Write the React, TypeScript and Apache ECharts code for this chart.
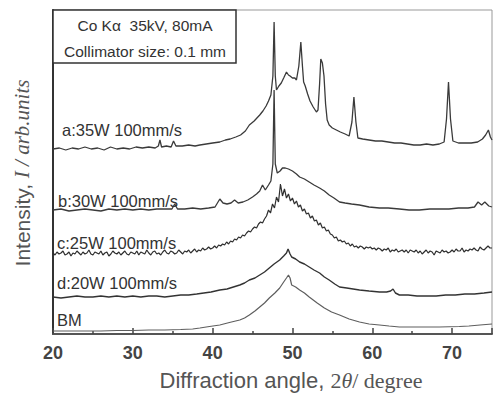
import React, { useEffect, useRef } from "react";
import * as echarts from "echarts";

const xTickValues = [20, 30, 40, 50, 60, 70];
const curveLabels = ["a:35W 100mm/s", "b:30W 100mm/s", "c:25W 100mm/s", "d:20W 100mm/s", "BM"];
const boxLines = ["Co K\u03b1  35kV, 80mA", "Collimator size: 0.1 mm"];

const curveA: [number, number][] = [
  [20.0, 185], [20.8, 186], [21.6, 184], [22.4, 186], [23.2, 185], [24.0, 187], [24.8, 185], [25.6, 186],
  [26.4, 184], [27.2, 187], [28.0, 185], [28.8, 186], [29.6, 185], [30.4, 187], [31.2, 186], [32.0, 187],
  [32.8, 186], [33.2, 188], [33.4, 194], [33.6, 187], [34.2, 188], [34.8, 187], [35.1, 193], [35.4, 188],
  [36.2, 188], [37.0, 189], [37.8, 188], [38.4, 189], [39.2, 190], [40.0, 191], [40.9, 192], [41.6, 194],
  [42.2, 195], [42.9, 197], [43.5, 199], [44.1, 203], [44.6, 209], [45.2, 213], [45.9, 219], [46.3, 223],
  [46.7, 228], [47.0, 233], [47.3, 239], [47.55, 258], [47.7, 312], [47.85, 258], [48.0, 244], [48.3, 248],
  [48.6, 251], [48.9, 256], [49.25, 262], [49.5, 259], [49.7, 258], [50.0, 256], [50.3, 256], [50.5, 254],
  [50.8, 268], [51.05, 292], [51.25, 268], [51.4, 252], [51.6, 248], [51.9, 240], [52.2, 233], [52.6, 227],
  [53.0, 222], [53.2, 224], [53.4, 250], [53.55, 275], [53.75, 271], [53.95, 258], [54.15, 230], [54.35, 214],
  [54.6, 209], [55.0, 206], [55.5, 204], [56.0, 202], [56.6, 200], [57.1, 198], [57.45, 212], [57.7, 237],
  [57.95, 212], [58.2, 196], [58.8, 195], [59.6, 194], [60.4, 193], [61.2, 193], [62.0, 192], [62.8, 191],
  [63.6, 191], [64.4, 190], [65.2, 189], [66.0, 189], [66.8, 190], [67.6, 189], [68.4, 190], [69.0, 192],
  [69.3, 215], [69.55, 252], [69.8, 215], [70.1, 193], [70.8, 191], [71.6, 191], [72.4, 191], [73.2, 192],
  [73.8, 195], [74.2, 199], [74.55, 204], [74.8, 197], [75.0, 194],
];

const curveB: [number, number][] = [
  [20, 124], [21, 125], [22, 123], [23, 124], [24, 125], [25, 124], [26, 123], [27, 125], [28, 124], [29, 125],
  [30, 124], [31, 125], [32, 124], [33, 125], [34, 125], [34.9, 125], [35.25, 130], [35.6, 125], [36.5, 125],
  [37.5, 126], [38.5, 125], [39.5, 126], [40.3, 127], [40.6, 131], [40.9, 135], [41.3, 131], [41.8, 130],
  [42.3, 131], [42.75, 134], [43.2, 131], [43.8, 132], [44.4, 134], [45.0, 137], [45.5, 140], [45.9, 143],
  [46.25, 149], [46.6, 144], [47.0, 149], [47.3, 153], [47.55, 170], [47.7, 244], [47.85, 170], [48.1, 161],
  [48.45, 163], [48.75, 166], [49.1, 166], [49.5, 165], [50.0, 163], [50.5, 160], [50.9, 157], [51.5, 155],
  [52.1, 152], [52.7, 149], [53.4, 146], [54.0, 143], [54.6, 139], [55.2, 136], [55.9, 132], [56.6, 131],
  [57.4, 130], [58.4, 129], [59.6, 127], [60.9, 126], [62.0, 126], [63.4, 125], [64.6, 124], [65.9, 124],
  [67.2, 125], [68.4, 125], [69.6, 125], [70.8, 126], [72.0, 126], [72.8, 127], [73.25, 132], [73.7, 129],
  [74.1, 132], [74.6, 128], [75, 127],
];

// curve c sampled every 0.25 degree from 20 to 75
const curveCStart = 20;
const curveCStep = 0.25;
const curveCValues = [
  81, 79, 82, 80, 81, 83, 79, 80, 82, 78, 81, 80, 83, 81, 79, 82, 80, 81, 84, 80,
  79, 82, 81, 80, 83, 79, 81, 82, 78, 80, 83, 81, 80, 82, 79, 81, 83, 80, 79, 82,
  81, 80, 83, 79, 82, 81, 80, 84, 81, 79, 82, 83, 80, 81, 79, 82, 84, 81, 80, 83,
  82, 80, 81, 84, 82, 80, 83, 82, 84, 81, 83, 85, 82, 84, 83, 86, 84, 85, 87, 85,
  86, 88, 86, 89, 88, 90, 89, 92, 90, 93, 92, 95, 94, 97, 96, 99, 98, 101, 103, 102,
  105, 107, 106, 110, 112, 111, 115, 118, 124, 121, 130, 126, 137, 132, 150, 138, 145, 136, 140, 133,
  136, 130, 133, 127, 129, 123, 125, 120, 121, 116, 118, 113, 114, 109, 111, 106, 107, 103, 104, 100,
  99, 96, 97, 93, 94, 92, 93, 90, 91, 88, 90, 87, 88, 86, 88, 87, 85, 87, 86, 87,
  85, 86, 84, 86, 85, 83, 85, 84, 86, 82, 84, 83, 85, 82, 83, 84, 82, 84, 81, 84,
  83, 82, 84, 81, 83, 80, 82, 84, 81, 83, 82, 79, 83, 82, 81, 84, 82, 83, 81, 82,
  84, 82, 85, 83, 83, 86, 82, 84, 83, 85, 84, 86, 84, 83, 87, 85, 84, 86, 88, 86,
  86,
];

const curveD: [number, number][] = [
  [20, 37], [21, 36], [22, 37], [23, 38], [24, 37], [25, 37], [26, 38], [27, 37], [28, 38], [29, 37],
  [30, 38], [31, 37], [32, 38], [33, 38], [34, 37], [35, 38], [36, 39], [37, 39], [38, 40], [38.9, 41],
  [39.8, 42], [40.9, 44], [41.8, 45], [42.6, 47], [43.4, 49], [44.0, 51], [44.6, 54], [45.3, 56], [45.9, 59],
  [46.5, 62], [47.1, 66], [47.7, 70], [48.4, 74], [48.9, 78], [49.25, 81], [49.45, 85], [49.7, 80], [49.9, 77],
  [50.4, 75], [50.9, 72], [51.5, 70], [52.1, 67], [52.7, 64], [53.4, 61], [54.0, 57], [54.6, 54], [55.3, 50],
  [55.9, 47], [56.8, 46], [57.6, 45], [58.4, 44], [59.6, 43], [60.9, 42], [61.8, 42], [62.3, 43], [62.6, 45],
  [62.9, 41], [63.4, 39], [64.5, 39], [65.6, 38], [66.8, 38], [68.0, 38], [69.2, 39], [70.4, 39], [71.6, 40],
  [72.8, 40], [74.0, 41], [75, 42],
];

const curveBM: [number, number][] = [
  [20, 3], [22, 3], [24, 3], [26, 3], [28, 3.5], [30, 3.5], [32, 4], [34, 4], [36, 4.5], [37.5, 5], [38.4, 6],
  [39.6, 7.5], [40.9, 9], [42.1, 11.5], [43.4, 14], [44.0, 16], [44.6, 19], [45.3, 23], [45.9, 27], [46.5, 31],
  [47.1, 36], [47.8, 41], [48.4, 46], [48.9, 52], [49.25, 56], [49.5, 59], [49.7, 56], [49.9, 49], [50.4, 47],
  [50.9, 44], [51.5, 41], [52.1, 37], [52.6, 34], [53.1, 31], [54.0, 26], [54.9, 22], [55.9, 19], [57.1, 15],
  [58.4, 12], [59.6, 10], [60.9, 9], [62.1, 8], [63.4, 7], [65.9, 7], [68.4, 7], [70.9, 7.5], [72.1, 8],
  [73.5, 9], [75, 10],
];

const SANS = "'Liberation Sans', Arial, sans-serif";
const SERIF = "'Liberation Serif', 'Times New Roman', serif";

export default function App() {
  const ref = useRef<HTMLDivElement>(null);
  useEffect(() => {
    if (!ref.current) return;
    const chart = echarts.init(ref.current, undefined, { renderer: "svg" });
    const curveC: [number, number][] = curveCValues.map((v, i) => [curveCStart + i * curveCStep, v]);
    const lineSeries = (data: [number, number][], color: string, width: number) => ({
      type: "line",
      data,
      showSymbol: false,
      symbol: "none",
      smooth: false,
      lineStyle: { color, width },
      silent: true,
    });
    const labelPos = [
      [62, 130], [58, 201], [57, 243], [57, 283], [57, 320],
    ];
    chart.setOption({
      animation: false,
      backgroundColor: "#fff",
      grid: { left: 53, right: 1, top: 10, bottom: 64, show: true, borderColor: "#999", borderWidth: 1 },
      xAxis: {
        type: "value",
        min: 20,
        max: 75,
        interval: 10,
        axisLine: { show: true, lineStyle: { color: "#555", width: 2 } },
        axisTick: { show: true, inside: true, length: 6, lineStyle: { color: "#444", width: 1.5 } },
        minorTick: { show: true, splitNumber: 2, length: 3, lineStyle: { color: "#444", width: 1.5 } },
        splitLine: { show: false },
        axisLabel: {
          showMaxLabel: false,
          margin: 10,
          color: "#444",
          fontSize: 18,
          fontWeight: "bold",
          fontFamily: SANS,
          formatter: (v: number) => (xTickValues.indexOf(Number(v)) >= 0 ? String(v) : ""),
        },
      },
      yAxis: {
        type: "value",
        min: 0,
        max: 324,
        axisLine: { show: true, lineStyle: { color: "#333", width: 2 } },
        axisTick: { show: false },
        axisLabel: { show: false },
        splitLine: { show: false },
      },
      series: [
        lineSeries(curveBM, "#5e5e5e", 1.2),
        lineSeries(curveD, "#333", 1.4),
        lineSeries(curveC, "#2e2e2e", 1.2),
        lineSeries(curveB, "#3a3a3a", 1.3),
        lineSeries(curveA, "#3a3a3a", 1.3),
      ],
      graphic: [
        {
          type: "rect",
          shape: { x: 53, y: 10, width: 183, height: 53 },
          style: { fill: "#fff", stroke: "#333", lineWidth: 1.5 },
          z: 10,
        },
        {
          type: "text",
          x: 145,
          y: 25,
          z: 11,
          style: { text: boxLines[0], fill: "#333", font: `15.5px ${SANS}`, align: "center", verticalAlign: "middle" },
        },
        {
          type: "text",
          x: 145,
          y: 51,
          z: 11,
          style: { text: boxLines[1], fill: "#333", font: `15.5px ${SANS}`, align: "center", verticalAlign: "middle" },
        },
        ...curveLabels.map((t, i) => ({
          type: "text",
          x: labelPos[i][0],
          y: labelPos[i][1],
          z: 11,
          style: { text: t, fill: "#333", font: `16.5px ${SANS}`, align: "left", verticalAlign: "middle" },
        })),
        {
          type: "text",
          x: 291,
          y: 380,
          z: 11,
          style: {
            text: "{s|Diffraction angle, }{n|2}{t|\u03b8}{n|/ degree}",
            align: "center",
            verticalAlign: "middle",
            rich: {
              s: { fill: "#555", fontSize: 22, fontFamily: SANS },
              n: { fill: "#555", fontSize: 22, fontFamily: SERIF },
              t: { fill: "#555", fontSize: 22, fontFamily: SERIF, fontStyle: "italic" },
            },
          },
        },
        {
          type: "text",
          x: 22,
          y: 173,
          rotation: Math.PI / 2,
          z: 11,
          style: {
            text: "{s|Intensity, }{i|I / arb.units}",
            align: "center",
            verticalAlign: "middle",
            rich: {
              s: { fill: "#555", fontSize: 21, fontFamily: SANS },
              i: { fill: "#555", fontSize: 21, fontFamily: SERIF, fontStyle: "italic" },
            },
          },
        },
      ],
    });
    return () => chart.dispose();
  }, []);
  return <div ref={ref} style={{ width: 493, height: 398, position: "absolute", left: 0, top: 0 }} />;
}
